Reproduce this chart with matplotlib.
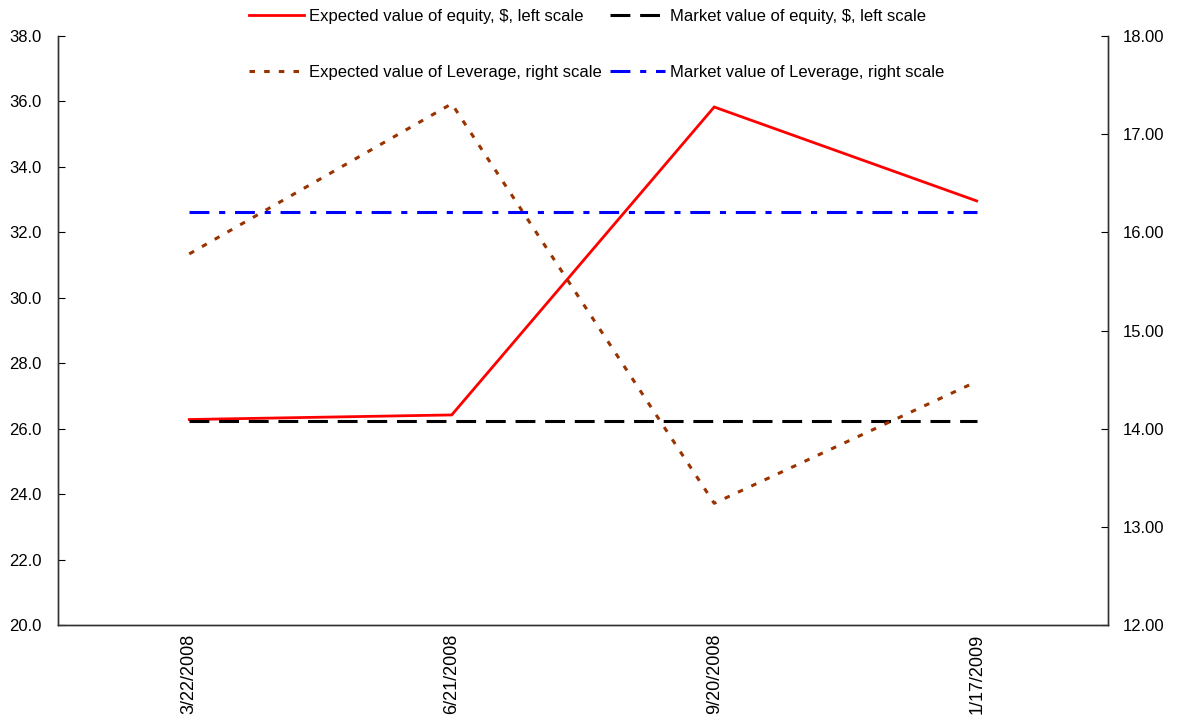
import matplotlib
matplotlib.use('Agg')
import matplotlib.pyplot as plt

plt.rcParams['font.family'] = ['Liberation Sans', 'DejaVu Sans']

# data
dates = ['3/22/2008', '6/21/2008', '9/20/2008', '1/17/2009']
exp_equity = [26.28, 26.42, 35.83, 32.96]
mkt_equity = [26.22, 26.22, 26.22, 26.22]
exp_leverage = [15.78, 17.31, 13.24, 14.48]
mkt_leverage = [16.21, 16.21, 16.21, 16.21]

fig = plt.figure(figsize=(11.77, 7.17), dpi=100)
ax = fig.add_axes([0.0493, 0.1283, 0.892, 0.8215])
ax2 = ax.twinx()

x = range(len(dates))

l1, = ax.plot(x, exp_equity, color='#ff0000', lw=2.0, solid_joinstyle='miter')
l2, = ax.plot(x, mkt_equity, color='black', lw=2.2, dashes=(6.5, 3.2))
l3, = ax2.plot(x, exp_leverage, color='#993300', lw=2.2, dashes=(1.8, 3.0))
l4, = ax2.plot(x, mkt_leverage, color='#0000ff', lw=2.2, dashes=(6.5, 3.2, 2.0, 3.2))

ax.set_xlim(-0.5, len(dates) - 0.5)
ax.set_ylim(20, 38)
ax2.set_ylim(12, 18)
ax.set_yticks([20 + 2 * i for i in range(10)])
ax.set_yticklabels(['{:.1f}'.format(20 + 2 * i) for i in range(10)])
ax2.set_yticks([12 + i for i in range(7)])
ax2.set_yticklabels(['{:.2f}'.format(12 + i) for i in range(7)])
ax.set_xticks(list(x))
ax.set_xticklabels(dates, rotation=90, fontsize=13)

for a in (ax, ax2):
    a.spines['top'].set_visible(False)
    for s in a.spines.values():
        s.set_linewidth(1.0)
        s.set_color('#333333')
ax.tick_params(axis='y', direction='in', length=5, labelsize=12, pad=12)
ax2.tick_params(axis='y', direction='in', length=5, labelsize=12, pad=11)
ax.tick_params(axis='x', length=0, pad=6)

handles = [l1, l2, l3, l4]
labels = ['Expected value of equity, $, left scale',
          'Market value of equity, $, left scale',
          'Expected value of Leverage, right scale',
          'Market value of Leverage, right scale']
# legend fills row-wise in the reference: reorder for column-major fill
order = [0, 2, 1, 3]
fig.legend([handles[i] for i in order], [labels[i] for i in order],
           loc='upper left', bbox_to_anchor=(0.199, 1.008), ncol=2,
           frameon=False, fontsize=12, handlelength=3.3, handletextpad=0.3,
           columnspacing=0.5, labelspacing=2.45)

fig.savefig('out.png', dpi=100)
